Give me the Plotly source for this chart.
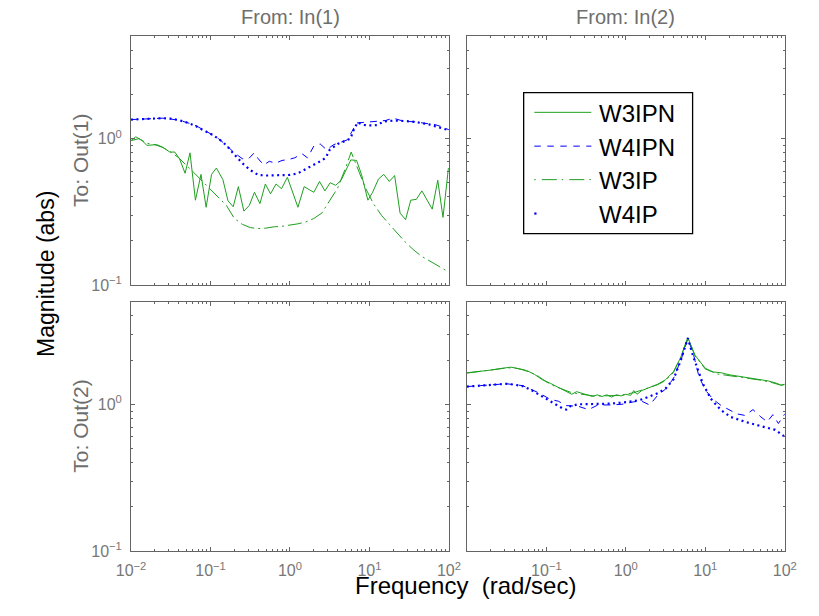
import plotly.graph_objects as go

# ---------------- data: top-left panel (From In(1) -> To Out(1)) ----------------
w_tl_w3ipn = [0.01, 0.01148, 0.0138, 0.0158, 0.0211, 0.0254, 0.0307, 0.0355, 0.0407, 0.0479,
              0.0552, 0.0646, 0.0759, 0.0881, 0.103, 0.1186, 0.1432, 0.166, 0.193, 0.224,
              0.263, 0.308, 0.357, 0.419, 0.490, 0.569, 0.668, 0.783, 0.927, 1.259,
              1.507, 1.995, 2.355, 2.754, 3.206, 3.758, 4.406, 5.212, 5.834, 6.887,
              7.943, 9.55, 10.96, 13.0, 15.14, 17.78, 20.75, 24.3, 28.5, 33.1,
              38.9, 45.7, 52.5, 61.7, 72.4, 84.3, 98.6]
m_tl_w3ipn = [0.97, 1.03, 0.97, 0.90, 0.91, 0.87, 0.81, 0.81, 0.73, 0.58,
              0.80, 0.38, 0.57, 0.34, 0.57, 0.63, 0.525, 0.376, 0.343, 0.47,
              0.32, 0.35, 0.43, 0.36, 0.49, 0.42, 0.49, 0.455, 0.545, 0.34,
              0.47, 0.43, 0.51, 0.44, 0.50, 0.48, 0.52, 0.63, 0.716, 0.71,
              0.57, 0.38, 0.43, 0.53, 0.57, 0.51, 0.56, 0.31, 0.28, 0.38,
              0.385, 0.44, 0.385, 0.33, 0.52, 0.29, 0.63]

w_tl_w4ipn = [0.01, 0.01585, 0.02512, 0.03981, 0.0631, 0.1, 0.1259, 0.1585, 0.1995, 0.2512,
              0.302, 0.3548, 0.3981, 0.4677, 0.5495, 0.6607, 0.7943, 0.955, 1.148, 1.413,
              1.66, 1.995, 2.399, 2.884, 3.548, 4.467, 5.248, 6.026, 6.918, 8.318,
              10.0, 12.59, 15.85, 19.95, 25.12, 31.62, 39.81, 50.12, 63.1, 79.43, 100.0]
m_tl_w4ipn = [1.35, 1.37, 1.38, 1.34, 1.24, 1.08, 1.0, 0.90, 0.80, 0.73,
              0.73, 0.80, 0.73, 0.66, 0.70, 0.68, 0.71, 0.72, 0.74, 0.79,
              0.74, 0.89, 0.92, 0.84, 0.91, 0.95, 0.98, 1.12, 1.28, 1.29,
              1.30, 1.32, 1.33, 1.38, 1.33, 1.31, 1.30, 1.27, 1.26, 1.21, 1.15]

w_tl_w3ip = [0.01, 0.01259, 0.01585, 0.01995, 0.02512, 0.03162, 0.03981, 0.05012, 0.0631, 0.07943,
             0.1, 0.1259, 0.1585, 0.1995, 0.2512, 0.3162, 0.3981, 0.5012, 0.631, 0.7943,
             1.0, 1.259, 1.585, 1.995, 2.512, 3.162, 3.981, 5.012, 5.888, 7.079,
             8.913, 11.22, 14.13, 17.78, 22.39, 28.18, 35.48, 44.67, 56.23, 70.79, 89.13, 100.0]
m_tl_w3ip = [0.97, 1.0, 0.93, 0.91, 0.87, 0.81, 0.74, 0.66, 0.58, 0.51,
             0.45, 0.40, 0.35, 0.285, 0.26, 0.247, 0.243, 0.245, 0.25, 0.252,
             0.256, 0.262, 0.27, 0.285, 0.31, 0.38, 0.46, 0.63, 0.81, 0.63,
             0.46, 0.36, 0.30, 0.26, 0.225, 0.197, 0.175, 0.158, 0.147, 0.136, 0.127, 0.123]

w_tl_w4ip = [0.01, 0.01585, 0.02512, 0.03162, 0.03981, 0.05012, 0.0631, 0.07943, 0.1, 0.1259,
             0.1585, 0.1995, 0.2512, 0.3162, 0.3981, 0.5012, 0.631, 0.7943, 1.0, 1.259,
             1.585, 1.995, 2.512, 2.818, 3.162, 3.981, 5.012, 5.754, 6.31, 7.079,
             8.318, 10.96, 12.59, 15.14, 20.89, 33.88, 53.7, 85.1, 100.0]
m_tl_w4ip = [1.35, 1.37, 1.38, 1.37, 1.34, 1.29, 1.23, 1.15, 1.08, 1.0,
             0.90, 0.78, 0.68, 0.61, 0.565, 0.56, 0.56, 0.56, 0.565, 0.58,
             0.62, 0.66, 0.71, 0.74, 0.84, 0.92, 0.97, 1.0, 1.14, 1.29,
             1.24, 1.23, 1.24, 1.31, 1.33, 1.31, 1.26, 1.18, 1.14]

# ---------------- data: bottom-right panel (From In(2) -> To Out(2)) ----------------
w_br_w3ipn = [0.01, 0.01413, 0.01995, 0.02818, 0.03548, 0.04467, 0.05623, 0.07079, 0.08913, 0.1122,
              0.1318, 0.1585, 0.1862, 0.2089, 0.2399, 0.2818, 0.3311, 0.3802, 0.4365, 0.5012,
              0.5754, 0.6607, 0.7586, 0.871, 1.0, 1.148, 1.259, 1.38, 1.585, 1.995,
              2.512, 3.162, 3.981, 4.898, 6.026, 7.413, 10.0, 12.59, 15.85, 19.95,
              25.12, 31.62, 39.81, 50.12, 63.1, 79.43, 89.13, 100.0]
m_br_w3ipn = [1.64, 1.67, 1.71, 1.76, 1.79, 1.75, 1.70, 1.60, 1.47, 1.39,
              1.33, 1.27, 1.22, 1.17, 1.22, 1.19, 1.16, 1.13, 1.16, 1.13,
              1.16, 1.12, 1.16, 1.14, 1.17, 1.15, 1.24, 1.17, 1.24, 1.30,
              1.37, 1.47, 1.67, 2.08, 2.85, 2.16, 1.76, 1.66, 1.64, 1.59,
              1.56, 1.53, 1.50, 1.47, 1.44, 1.39, 1.35, 1.37]

w_br_w4ipn = [0.01, 0.01995, 0.03162, 0.05012, 0.07943, 0.1122, 0.1413, 0.1778, 0.2512, 0.3388,
              0.4467, 0.631, 0.8913, 1.259, 1.585, 1.995, 2.512, 3.162, 3.981, 5.012,
              6.026, 7.079, 8.318, 10.0, 12.59, 15.85, 19.95, 25.12, 31.62, 39.81,
              50.12, 60.26, 70.79, 83.18, 100.0]
m_br_w4ipn = [1.32, 1.36, 1.38, 1.34, 1.20, 1.08, 1.05, 0.98, 0.97, 0.92,
              0.99, 0.99, 1.0, 1.04, 1.05, 0.99, 1.15, 1.27, 1.50, 2.05,
              2.80, 2.20, 1.55, 1.25, 1.08, 0.98, 0.92, 0.86, 0.84, 0.92,
              0.82, 0.76, 0.85, 0.74, 0.86]

w_br_w3ip = [0.01, 0.01585, 0.02512, 0.03162, 0.03981, 0.05012, 0.0631, 0.07943, 0.1, 0.1259,
             0.1585, 0.1995, 0.2512, 0.3162, 0.3981, 0.5012, 0.631, 0.7943, 1.0, 1.259,
             1.585, 1.995, 2.512, 3.162, 3.981, 4.898, 6.026, 7.413, 10.0, 14.13,
             19.95, 31.62, 50.12, 70.79, 89.13, 100.0]
m_br_w3ip = [1.63, 1.68, 1.74, 1.77, 1.77, 1.72, 1.65, 1.55, 1.42, 1.33,
             1.27, 1.21, 1.18, 1.16, 1.14, 1.14, 1.14, 1.15, 1.17, 1.20,
             1.25, 1.31, 1.36, 1.45, 1.65, 2.08, 2.85, 2.14, 1.74, 1.61,
             1.57, 1.51, 1.46, 1.40, 1.35, 1.36]

w_br_w4ip = [0.01, 0.01585, 0.02512, 0.03162, 0.03981, 0.05012, 0.0631, 0.07943, 0.1, 0.1259,
             0.1585, 0.1778, 0.1995, 0.2512, 0.3162, 0.3981, 0.5012, 0.631, 0.7943, 1.0,
             1.259, 1.585, 1.995, 2.512, 3.162, 3.981, 4.898, 6.026, 7.079, 8.128,
             9.333, 11.75, 15.85, 20.89, 31.62, 50.12, 75.86, 100.0]
m_br_w4ip = [1.32, 1.35, 1.37, 1.38, 1.36, 1.33, 1.26, 1.17, 1.08, 1.01,
             0.94, 0.92, 0.97, 1.0, 1.0, 1.0, 1.0, 1.01, 1.02, 1.03,
             1.05, 1.08, 1.13, 1.19, 1.28, 1.48, 1.98, 2.82, 2.10, 1.70,
             1.38, 1.09, 0.91, 0.82, 0.76, 0.71, 0.67, 0.60]

series_names = ["W3IPN", "W4IPN", "W3IP", "W4IP"]
x_tickvals = [0.01, 0.1, 1, 10, 100]
x_ticktext = ["10<sup>\u22122</sup>", "10<sup>\u22121</sup>", "10<sup>0</sup>", "10<sup>1</sup>", "10<sup>2</sup>"]
x_tickvals_br = [0.1, 1, 10, 100]
x_ticktext_br = ["10<sup>\u22121</sup>", "10<sup>0</sup>", "10<sup>1</sup>", "10<sup>2</sup>"]
y_tickvals = [0.1, 1]
y_ticktext = ["10<sup>\u22121</sup>", "10<sup>0</sup>"]

# ---------------- styles / layout ----------------
W, H = 819, 616
GREEN = "#1f9f1f"
BLUE = "#0000ff"
FONT = "Liberation Sans, Arial, sans-serif"
GREY_TXT = "#6e6e6e"
AX_GREY = "#646464"

def px(x):
    return x / W

def py(y):
    return 1 - y / H

line_styles = {
    "W3IPN": dict(color=GREEN, width=1),
    "W4IPN": dict(color=BLUE, width=1, dash="7px,6px"),
    "W3IP": dict(color=GREEN, width=1, dash="14px,4px,2px,4px"),
    "W4IP": dict(color=BLUE, width=2.2, dash="2px,3.5px"),
}
legend_sample_dash = {
    "W3IPN": None,
    "W4IPN": "6.5px,6.5px",
    "W3IP": "1.5px,6px,15px,5px",
    "W4IP": "2.2px,56.8px",
}

tl = {"W3IPN": (w_tl_w3ipn, m_tl_w3ipn), "W4IPN": (w_tl_w4ipn, m_tl_w4ipn),
      "W3IP": (w_tl_w3ip, m_tl_w3ip), "W4IP": (w_tl_w4ip, m_tl_w4ip)}
br = {"W3IPN": (w_br_w3ipn, m_br_w3ipn), "W4IPN": (w_br_w4ipn, m_br_w4ipn),
      "W3IP": (w_br_w3ip, m_br_w3ip), "W4IP": (w_br_w4ip, m_br_w4ip)}

fig = go.Figure()
for name in series_names:
    w, m = tl[name]
    fig.add_trace(go.Scatter(x=w, y=m, mode="lines", name=name, legendgroup=name,
                             showlegend=False, line=line_styles[name], xaxis="x", yaxis="y"))
for name in series_names:
    w, m = br[name]
    fig.add_trace(go.Scatter(x=w, y=m, mode="lines", name=name, legendgroup=name,
                             showlegend=False, line=line_styles[name], xaxis="x4", yaxis="y4"))
for xa, ya in [("x2", "y2"), ("x3", "y3")]:
    fig.add_trace(go.Scatter(x=[], y=[], mode="lines", showlegend=False,
                             hoverinfo="skip", xaxis=xa, yaxis=ya))

def axis(domain, anchor, rng, labels, tv, tt):
    return dict(type="log", domain=domain, anchor=anchor, range=rng,
                showline=True, linecolor=AX_GREY, linewidth=1, mirror="allticks",
                ticks="inside", ticklen=4, tickcolor=AX_GREY, showgrid=False, zeroline=False,
                tickmode="array", tickvals=tv, ticktext=tt, showticklabels=labels,
                ticklabelstandoff=5,
                tickfont=dict(family=FONT, size=16, color="#777777"),
                minor=dict(ticks="inside", ticklen=2, tickcolor=AX_GREY, dtick="D1", showgrid=False))

XL = [px(120), px(448.7)]
XR = [px(467.3), px(796)]
YT = [py(289.3), py(36.7)]
YB = [py(559.3), py(306)]
XR_RANGE = [-2, 2]
YR_RANGE = [-1, 0.7]

fig.update_layout(
    width=W, height=H, autosize=False,
    margin=dict(l=0, r=0, t=0, b=0),
    paper_bgcolor="white", plot_bgcolor="white",
    xaxis=axis(XL, "y", XR_RANGE, False, x_tickvals, x_ticktext),
    yaxis=axis(YT, "x", YR_RANGE, True, y_tickvals, y_ticktext),
    xaxis2=axis(XL, "y2", XR_RANGE, True, x_tickvals, x_ticktext),
    yaxis2=axis(YB, "x2", YR_RANGE, True, y_tickvals, y_ticktext),
    xaxis3=axis(XR, "y3", XR_RANGE, False, x_tickvals, x_ticktext),
    yaxis3=axis(YT, "x3", YR_RANGE, False, y_tickvals, y_ticktext),
    xaxis4=axis(XR, "y4", XR_RANGE, True, x_tickvals_br, x_ticktext_br),
    yaxis4=axis(YB, "x4", YR_RANGE, False, y_tickvals, y_ticktext),
    showlegend=False,
)

# legend box (drawn in the In(2)->Out(1) panel area)
fig.add_shape(type="rect", xref="paper", yref="paper", x0=px(526), x1=px(700.7),
              y0=py(237), y1=py(94), line=dict(color="black", width=1.3), fillcolor="white", layer="above")
legend_rows = [114, 148.3, 182.3, 216.7]
for name, ry in zip(series_names, legend_rows):
    st = line_styles[name]
    ln = dict(color=st["color"], width=st["width"])
    if legend_sample_dash[name]:
        ln["dash"] = legend_sample_dash[name]
    fig.add_shape(type="line", xref="paper", yref="paper", x0=px(537), x1=px(596),
                  y0=py(ry), y1=py(ry), line=ln, layer="above")
    fig.add_annotation(text=name, x=px(602), y=py(ry + 1), xref="paper", yref="paper",
                       xanchor="left", yanchor="middle", showarrow=False,
                       font=dict(family=FONT, size=24, color="black"))

ann = [
    dict(text="From: In(1)", x=284.4, y=17.5, size=20, color=GREY_TXT, angle=0),
    dict(text="From: In(2)", x=631.6, y=17.5, size=20, color=GREY_TXT, angle=0),
    dict(text="To: Out(1)", x=67.5, y=163, size=21, color=GREY_TXT, angle=-90),
    dict(text="To: Out(2)", x=67.5, y=432.7, size=21, color=GREY_TXT, angle=-90),
    dict(text="Magnitude (abs)", x=32, y=278, size=23, color="black", angle=-90),
    dict(text="Frequency\u00a0 (rad/sec)", x=465.5, y=594, size=24, color="black", angle=0),
]
for a in ann:
    fig.add_annotation(text=a["text"], x=px(a["x"]), y=py(a["y"]), xref="paper", yref="paper",
                       xanchor="center", yanchor="middle", showarrow=False, textangle=a["angle"],
                       font=dict(family=FONT, size=a["size"], color=a["color"]))

fig.write_html("out.html")
